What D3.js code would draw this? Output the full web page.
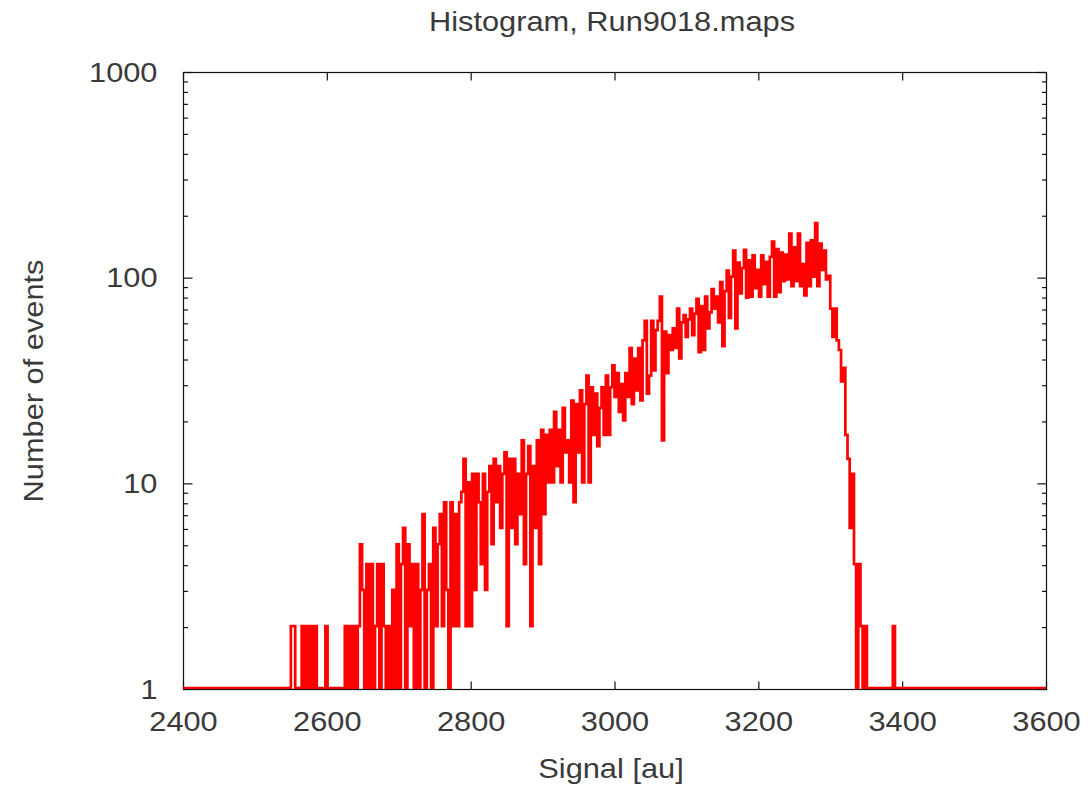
<!DOCTYPE html>
<html>
<head>
<meta charset="utf-8">
<script src="https://cdn.jsdelivr.net/npm/d3@7"></script>
<style>
  html, body { margin: 0; padding: 0; background: #fff; }
  svg { display: block; }
  text { font-family: "Liberation Sans", Arial, sans-serif; fill: #3a3a3a; }
</style>
</head>
<body>
<svg id="chart" width="1090" height="785"></svg>
<script>
// Histogram of signal amplitudes, 3 au wide bins starting at firstBin.
// Empty bins are shown at the floor of the log axis (1).
const firstBin = 2547;
const binWidth = 3;
const counts = [
  1, 2, 2, 1, 1, 1, 2, 1, 2, 1,
  2, 1, 2, 1, 1, 1, 1, 2, 1, 1,
  1, 1, 1, 1, 1, 1, 2, 1, 2, 1,
  2, 1, 2, 5, 3, 1, 4, 1, 4, 1,
  2, 4, 1, 4, 2, 1, 2, 1, 3, 1,
  5, 1, 4, 6, 1, 5, 2, 4, 1, 4,
  1, 3, 7, 1, 3, 4, 1, 6, 2, 5,
  7, 2, 8, 3, 1, 8, 2, 7, 2, 8,
  9, 13, 2, 10, 2, 11, 3, 11, 8, 4,
  11, 3, 9, 12, 5, 13, 8, 12, 6, 11,
  14, 2, 13, 6, 13, 5, 11, 7, 16, 4,
  11, 15, 2, 12, 6, 16, 4, 18, 7, 17,
  10, 18, 10, 22, 12, 18, 10, 23, 14, 16,
  10, 25, 8, 24, 14, 28, 10, 24, 33, 10,
  29, 17, 27, 15, 23, 29, 17, 33, 17, 29,
  37, 26, 34, 22, 30, 20, 34, 26, 45, 24,
  40, 28, 45, 25, 49, 61, 27, 33, 61, 35,
  55, 61, 80, 16, 54, 34, 52, 44, 56, 45,
  70, 40, 60, 65, 51, 62, 70, 52, 66, 78,
  43, 72, 44, 80, 56, 67, 87, 70, 80, 60,
  94, 46, 85, 107, 63, 100, 134, 56, 117, 83,
  110, 135, 79, 120, 80, 127, 88, 108, 80, 127,
  92, 118, 80, 125, 148, 80, 136, 84, 131, 95,
  128, 97, 162, 90, 139, 95, 162, 90, 115, 81,
  146, 90, 150, 100, 182, 90, 145, 108, 134, 97,
  101, 70, 51, 70, 49, 44, 31, 36, 17, 13,
  6, 11, 4, 1, 4, 2, 1, 2, 1, 1,
  1, 1, 1, 1, 1, 1, 1, 1, 1, 1,
  2, 1
];

const xDomain = [2400, 3600];
const yDomain = [1, 1000];
const xTicks = [2400, 2600, 2800, 3000, 3200, 3400, 3600];
const yMajorTicks = [1, 10, 100, 1000];
const yMinorTicks = [2, 3, 4, 5, 6, 7, 8, 9, 20, 30, 40, 50, 60, 70, 80, 90, 200, 300, 400, 500, 600, 700, 800, 900];

const titleText = "Histogram, Run9018.maps";
const xLabel = "Signal [au]";
const yLabel = "Number of events";

const plot = { left: 183, right: 1046, top: 72, bottom: 689 };
const fontSize = 28.5;
const stretch = 1.08;

const svg = d3.select("#chart");
const x = d3.scaleLinear().domain(xDomain).range([plot.left, plot.right]);
const y = d3.scaleLog().domain(yDomain).range([plot.bottom, plot.top]);

// step points: floor level from the left edge, each bin, then floor to the right edge
const points = [[xDomain[0], 1]];
counts.forEach((c, i) => points.push([firstBin + i * binWidth, c]));
points.push([firstBin + counts.length * binWidth, 1]);
points.push([xDomain[1], 1]);

svg.append("clipPath").attr("id", "plot-clip")
  .append("rect")
  .attr("x", plot.left).attr("y", plot.top - 2)
  .attr("width", plot.right - plot.left).attr("height", plot.bottom - plot.top + 2);

// frame
svg.append("rect")
  .attr("x", plot.left + 0.5).attr("y", plot.top + 0.5)
  .attr("width", plot.right - plot.left).attr("height", plot.bottom - plot.top)
  .attr("fill", "none").attr("stroke", "#111").attr("stroke-width", 1.2);

function styleAxis(g) {
  g.select(".domain").remove();
  g.selectAll(".tick line").attr("stroke", "#111").attr("stroke-width", 1.2);
  g.selectAll(".tick text")
    .style("font-family", '"Liberation Sans", Arial, sans-serif')
    .style("font-size", fontSize + "px")
    .attr("fill", "#3a3a3a");
}

// bottom axis with labels, ticks pointing inward
const gx = svg.append("g")
  .attr("transform", `translate(0,${plot.bottom + 0.5})`)
  .call(d3.axisBottom(x).tickValues(xTicks).tickSize(-8).tickPadding(21).tickFormat(d3.format("d")))
  .call(styleAxis);
gx.selectAll(".tick text")
  .attr("transform", `scale(${stretch},1)`);

// top mirror
svg.append("g")
  .attr("transform", `translate(0,${plot.top + 0.5})`)
  .call(d3.axisTop(x).tickValues(xTicks).tickSize(-8).tickFormat(""))
  .call(styleAxis);

// left axis (majors with labels, minors without)
const gy = svg.append("g")
  .attr("transform", `translate(${plot.left + 0.5},0)`)
  .call(d3.axisLeft(y).tickValues(yMajorTicks).tickSize(-9).tickPadding(26).tickFormat(d3.format("d")))
  .call(styleAxis);
gy.selectAll(".tick text").each(function () {
  const t = d3.select(this);
  const xx = +t.attr("x");
  t.attr("x", 0).attr("transform", `translate(${xx},0) scale(${stretch},1)`);
});
svg.append("g")
  .attr("transform", `translate(${plot.left + 0.5},0)`)
  .call(d3.axisLeft(y).tickValues(yMinorTicks).tickSize(-4.5).tickFormat(""))
  .call(styleAxis);

// right mirror
svg.append("g")
  .attr("transform", `translate(${plot.right + 0.5},0)`)
  .call(d3.axisRight(y).tickValues(yMajorTicks).tickSize(-9).tickFormat(""))
  .call(styleAxis);
svg.append("g")
  .attr("transform", `translate(${plot.right + 0.5},0)`)
  .call(d3.axisRight(y).tickValues(yMinorTicks).tickSize(-4.5).tickFormat(""))
  .call(styleAxis);

// histogram steps
const line = d3.line()
  .x(d => x(d[0]))
  .y(d => y(d[1]) - 1)
  .curve(d3.curveStepAfter);

svg.append("path")
  .datum(points)
  .attr("clip-path", "url(#plot-clip)")
  .attr("d", line)
  .attr("fill", "none")
  .attr("stroke", "#ff0000")
  .attr("stroke-width", 2.7)
  .attr("stroke-linejoin", "miter");

// titles
function label(txt, tx, ty, rot) {
  svg.append("text")
    .attr("transform", `translate(${tx},${ty}) rotate(${rot}) scale(${stretch},1)`)
    .attr("text-anchor", "middle")
    .style("font-size", fontSize + "px")
    .text(txt);
}
label(titleText, 612, 31, 0);
label(xLabel, 611, 778, 0);
label(yLabel, 43, 381, -90);
</script>
</body>
</html>
